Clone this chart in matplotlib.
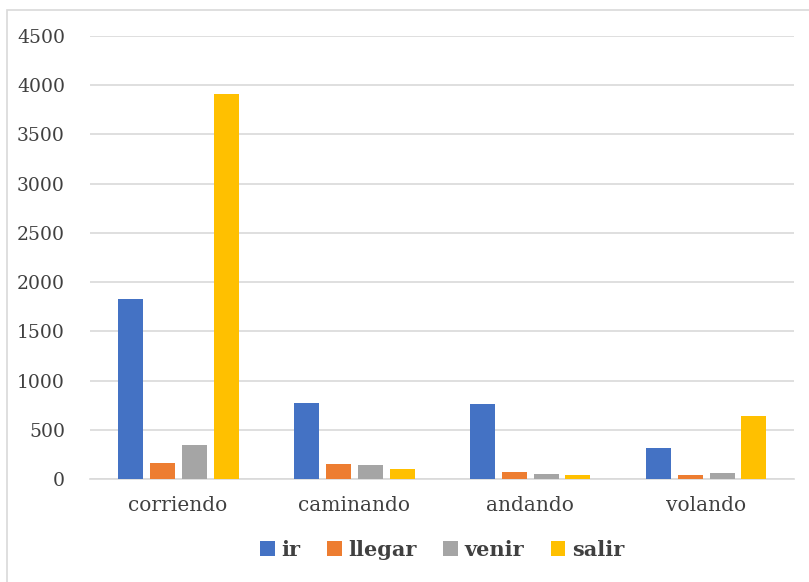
import numpy as np
import matplotlib.pyplot as plt
from matplotlib.patches import Rectangle

# values
categories = ['corriendo', 'caminando', 'andando', 'volando']
ir     = [1825, 769, 765, 312]
llegar = [160, 152, 71, 44]
venir  = [345, 142, 50, 58]
salir  = [3911, 100, 40, 643]
series = [('ir', ir), ('llegar', llegar), ('venir', venir), ('salir', salir)]
colors = ['#4472C4', '#ED7D31', '#A5A5A5', '#FFC000']
yticks = np.arange(0, 4501, 500)

W, H = 809, 582
fig = plt.figure(figsize=(W/100, H/100), dpi=100)
plt.rcParams['font.family'] = ['DejaVu Serif']

# light chart border (cut off at right/bottom like the screenshot)
fig.patches.append(Rectangle((7/W, -0.05), 1.2, 1 - 10/H + 0.05, transform=fig.transFigure,
                             fill=False, edgecolor='#d9d9d9', linewidth=1.2))

ax = fig.add_axes([90/W, (H-479)/H, (794-90)/W, (479-36)/H])

x = np.arange(len(categories))
step = 32/176
width = 25/176
for i, (name, vals) in enumerate(series):
    ax.bar(x + (i - 1.5)*step, vals, width, color=colors[i], label=name, zorder=3)

ax.set_xlim(-0.5, len(categories) - 0.5)
ax.set_ylim(0, 4500)
ax.set_yticks(yticks)
ax.set_yticklabels([str(v) for v in yticks], fontsize=13.5, color='#404040')
ax.set_xticks(x)
ax.set_xticklabels(categories, fontsize=14.5, color='#404040')
ax.tick_params(axis='both', length=0)
ax.tick_params(axis='y', pad=18)
ax.tick_params(axis='x', pad=12)
ax.grid(axis='y', color='#d9d9d9', linewidth=1.2, zorder=0)
for s in ['top', 'right', 'left']:
    ax.spines[s].set_visible(False)
ax.spines['bottom'].set_color('#d9d9d9')
ax.spines['bottom'].set_linewidth(1.2)

leg = ax.legend(loc='center', bbox_to_anchor=(0.5, -0.16), ncol=4, frameon=False,
                handlelength=0.7, handleheight=0.7, handletextpad=0.3, columnspacing=1.3,
                prop={'size': 15, 'weight': 'bold'})
for t in leg.get_texts():
    t.set_color('#404040')

fig.savefig('out.png', dpi=100)
